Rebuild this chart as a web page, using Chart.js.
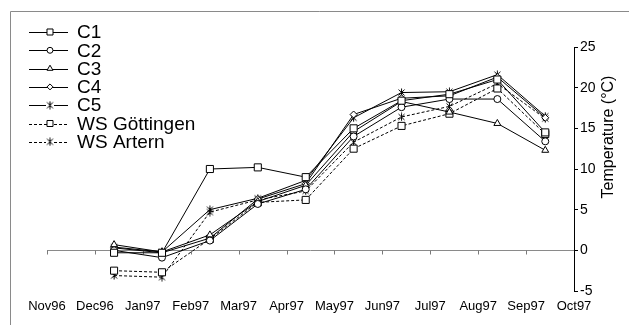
<!DOCTYPE html>
<html>
<head>
<meta charset="utf-8">
<script src="https://cdn.jsdelivr.net/npm/chart.js@4/dist/chart.umd.min.js"></script>
<style>
  html, body { margin: 0; padding: 0; background: #fff; }
  canvas { display: block; }
</style>
</head>
<body>
<canvas id="chart" width="629" height="325"></canvas>
<script>
// Month tick labels along the time axis (start of each month)
const tickLabels = ['Nov96', 'Dec96', 'Jan97', 'Feb97', 'Mar97', 'Apr97',
                    'May97', 'Jun97', 'Jul97', 'Aug97', 'Sep97', 'Oct97'];

// Months in which mean temperatures were recorded
const sampleMonths = ['Dec96', 'Jan97', 'Feb97', 'Mar97', 'Apr97',
                      'May97', 'Jun97', 'Jul97', 'Aug97', 'Sep97'];

// Readings are dated around the 13th, i.e. part way into each month
const sampleDay = 13;

// Monthly mean temperature (°C) per site
const c1         = [-0.3, -0.3, 10.0, 10.2,  9.0, 15.0, 18.4, 19.2, 21.0, 14.5];
const c2         = [ 0.0, -0.9,  1.2,  5.7,  7.5, 14.0, 17.6, 18.6, 18.6, 13.4];
const c3         = [ 0.7, -0.2,  1.9,  6.0,  8.0, 14.6, 18.3, 17.0, 15.6, 12.3];
const c4         = [ 0.3, -0.3,  1.5,  6.3,  8.2, 16.7, 18.7, 19.0, 21.3, 16.3];
const c5         = [ 0.4, -0.2,  5.0,  6.4,  8.6, 16.3, 19.4, 19.5, 21.6, 16.5];
const wsGoettingen = [-2.5, -2.7, 1.4,  5.9,  6.2, 12.5, 15.3, 16.8, 19.9, 14.3];
const wsArtern   = [-3.1, -3.3,  4.7,  6.2,  7.3, 13.3, 16.4, 17.7, 20.5, 16.2];

const seriesNames = ['C1', 'C2', 'C3', 'C4', 'C5', 'WS Göttingen', 'WS Artern'];
const seriesValues = [c1, c2, c3, c4, c5, wsGoettingen, wsArtern];

// Asterisk marker: an X crossed by a vertical stroke
function makeStar() {
  const s = 9;
  const cv = document.createElement('canvas');
  cv.width = s; cv.height = s;
  const g = cv.getContext('2d');
  g.strokeStyle = '#000';
  g.lineWidth = 1;
  g.beginPath();
  g.moveTo(1.5, 1.5); g.lineTo(7.5, 7.5);
  g.moveTo(7.5, 1.5); g.lineTo(1.5, 7.5);
  g.moveTo(4.5, 0.5); g.lineTo(4.5, 8.5);
  g.stroke();
  return cv;
}
const starMarker = makeStar();

const styles = [
  { pointStyle: 'rect',     radius: 5,   dash: [] },
  { pointStyle: 'circle',   radius: 3.5, dash: [] },
  { pointStyle: 'triangle', radius: 4,   dash: [] },
  { pointStyle: 'rectRot',  radius: 3.5, dash: [] },
  { pointStyle: starMarker, radius: 4.5, dash: [] },
  { pointStyle: 'rect',     radius: 5,   dash: [3, 2] },
  { pointStyle: starMarker, radius: 4.5, dash: [3, 2] }
];

function xOf(month) {
  return tickLabels.indexOf(month) + (sampleDay - 1) / 30;
}

const datasets = seriesNames.map((name, k) => ({
  label: name,
  data: sampleMonths.map((m, i) => ({ x: xOf(m), y: seriesValues[k][i] })),
  borderColor: '#000',
  borderWidth: 1,
  borderDash: styles[k].dash,
  backgroundColor: '#fff',
  pointStyle: styles[k].pointStyle,
  pointRadius: styles[k].radius,
  pointBorderColor: '#000',
  pointBackgroundColor: '#fff',
  pointBorderWidth: 1,
  fill: false,
  tension: 0
}));

const FONT = '"Liberation Sans", Arial, Helvetica, sans-serif';

// Outer frame lines (top and left edges of the figure box)
const framePlugin = {
  id: 'frame',
  beforeDraw(chart) {
    const ctx = chart.ctx;
    ctx.save();
    ctx.fillStyle = '#fff';
    ctx.fillRect(0, 0, chart.width, chart.height);
    ctx.strokeStyle = '#8a8a8a';
    ctx.lineWidth = 1;
    ctx.beginPath();
    ctx.moveTo(10.5, chart.height);
    ctx.lineTo(10.5, 11.5);
    ctx.lineTo(chart.width, 11.5);
    ctx.stroke();
    ctx.restore();
  }
};

// Month tick marks hanging below the zero line
const zeroTicksPlugin = {
  id: 'zeroTicks',
  beforeDatasetsDraw(chart) {
    const { ctx, scales } = chart;
    const y0 = Math.round(scales.y.getPixelForValue(0)) + 0.5;
    ctx.save();
    ctx.strokeStyle = '#7a7a7a';
    ctx.lineWidth = 1;
    ctx.beginPath();
    for (let v = 0; v < tickLabels.length - 1; v++) {
      const x = Math.round(scales.x.getPixelForValue(v)) + 0.5;
      ctx.moveTo(x, y0);
      ctx.lineTo(x, y0 + 4);
    }
    ctx.stroke();
    ctx.restore();
  }
};

// Legend with line sample and marker for each series
const legendPlugin = {
  id: 'seriesLegend',
  afterDraw(chart) {
    const ctx = chart.ctx;
    const x0 = 29, x1 = 68, xm = 50, xt = 77;
    const top = 32, step = 18.3;
    ctx.save();
    ctx.font = '19px ' + FONT;
    ctx.textBaseline = 'middle';
    ctx.fillStyle = '#000';
    chart.data.datasets.forEach((ds, i) => {
      const y = top + i * step;
      ctx.save();
      ctx.strokeStyle = '#000';
      ctx.lineWidth = 1;
      ctx.setLineDash(ds.borderDash || []);
      ctx.beginPath();
      ctx.moveTo(x0, Math.round(y) + 0.5);
      ctx.lineTo(x1, Math.round(y) + 0.5);
      ctx.stroke();
      ctx.restore();
      const style = ds.pointStyle;
      if (style instanceof HTMLCanvasElement) {
        ctx.fillStyle = '#fff';
        ctx.fillRect(xm - 4, y - 4, 8, 8);
        ctx.drawImage(style, xm - style.width / 2, y - style.height / 2);
      } else {
        ctx.save();
        ctx.fillStyle = '#fff';
        ctx.strokeStyle = '#000';
        ctx.lineWidth = 1;
        Chart.helpers.drawPoint(ctx, {
          pointStyle: style, radius: ds.pointRadius * 0.85,
          rotation: 0, borderWidth: 1
        }, xm, y);
        ctx.restore();
      }
      ctx.fillStyle = '#000';
      ctx.fillText(ds.label, xt, y + 1);
    });
    ctx.restore();
  }
};

// Axis title on the right, reading bottom to top
const yTitlePlugin = {
  id: 'yTitle',
  afterDraw(chart) {
    const { ctx, chartArea } = chart;
    ctx.save();
    ctx.translate(chartArea.right + 35, chartArea.top + 90);
    ctx.rotate(-Math.PI / 2);
    ctx.font = '16px ' + FONT;
    ctx.fillStyle = '#000';
    ctx.textAlign = 'center';
    ctx.textBaseline = 'middle';
    ctx.fillText('Temperature (°C)', 0, 0);
    ctx.restore();
  }
};

new Chart(document.getElementById('chart'), {
  type: 'line',
  data: { datasets },
  options: {
    responsive: false,
    animation: false,
    devicePixelRatio: 1,
    layout: { padding: { left: 47, top: 47, right: 0, bottom: 0 } },
    plugins: { legend: { display: false }, tooltip: { enabled: false } },
    scales: {
      x: {
        type: 'linear',
        position: 'bottom',
        min: 0,
        max: tickLabels.length - 1,
        grid: { display: false },
        border: { display: false },
        ticks: {
          stepSize: 1,
          autoSkip: false,
          maxRotation: 0,
          padding: 0,
          color: '#000',
          font: { family: FONT, size: 13 },
          callback: v => tickLabels[v]
        },
        afterFit: s => { s.height = 34; }
      },
      y: {
        type: 'linear',
        position: 'right',
        min: -5,
        max: 25,
        grid: {
          drawOnChartArea: true,
          color: c => (c.tick && c.tick.value === 0) ? '#8a8a8a' : 'rgba(0,0,0,0)',
          tickColor: '#000',
          tickLength: 4,
          lineWidth: 1
        },
        border: { display: true, color: '#000', width: 1 },
        ticks: {
          stepSize: 5,
          padding: 2,
          color: '#000',
          font: { family: FONT, size: 14 }
        },
        afterFit: s => { s.width = 55; }
      }
    }
  },
  plugins: [framePlugin, zeroTicksPlugin, legendPlugin, yTitlePlugin]
});
</script>
</body>
</html>
